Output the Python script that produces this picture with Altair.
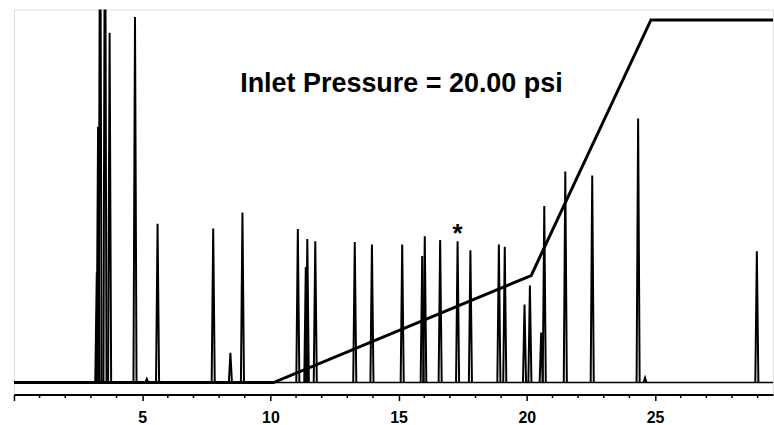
import altair as alt
import pandas as pd

# Peak retention times (min) and heights (relative signal units)
peak_times = [3.23, 3.28, 3.36, 3.55, 3.73, 4.72, 5.18, 5.60, 7.77, 8.44, 8.91,
              11.07, 11.38, 11.44, 11.75, 13.29, 13.96, 15.14, 15.92, 16.02, 16.62,
              17.30, 17.80, 18.91, 19.14, 19.91, 20.12, 20.56, 20.68, 21.50, 22.55,
              24.34, 24.61, 28.97]
peak_heights = [29.5, 68.6, 150, 150, 93.8, 98.0, 1.0, 42.6, 41.3, 8.0, 45.6,
                41.2, 31.0, 38.5, 37.9, 37.7, 37.0, 37.0, 33.9, 39.2, 38.2,
                37.9, 35.5, 37.0, 36.4, 20.9, 26.0, 13.4, 47.3, 56.6, 55.5,
                70.8, 1.3, 35.2]

# Inlet pressure program (time, relative level)
prog_times = [0, 10.12, 20.17, 24.84, 29.6]
prog_levels = [0, 0, 28.7, 97.2, 97.2]

major_ticks = [0, 5, 10, 15, 20, 25]
minor_ticks = [1, 2, 3, 4, 6, 7, 8, 9, 11, 12, 13, 14, 16, 17, 18, 19,
               21, 22, 23, 24, 26, 27, 28, 29]

annotation_text = ["Inlet Pressure = 20.00 psi"]
annotation_time = [15.11]
annotation_level = [77.9]
marked_peak = 17.30

HALF_WIDTH = 0.06
rows = []
for i, (t, h) in enumerate(zip(peak_times, peak_heights)):
    rows.append({"t": t - HALF_WIDTH, "v": 0, "peak": i})
    rows.append({"t": t, "v": h, "peak": i})
    rows.append({"t": t + HALF_WIDTH, "v": 0, "peak": i})
peaks_df = pd.DataFrame(rows)
prog_df = pd.DataFrame({"t": prog_times, "v": prog_levels})
ann_df = pd.DataFrame({"t": annotation_time, "v": annotation_level, "txt": annotation_text})
star_df = pd.DataFrame({"t": [marked_peak],
                        "v": [peak_heights[peak_times.index(marked_peak)]],
                        "txt": ["*"]})
minor_df = pd.DataFrame({"t": minor_ticks})

FONT = "Arial, Liberation Sans"
PLOT_H = 386
xscale = alt.Scale(domain=[0, 29.6], nice=False, zero=False)
yscale = alt.Scale(domain=[-3.2, 100], nice=False, zero=False)

xaxis = alt.Axis(
    values=major_ticks,
    labelExpr="datum.value > 0 ? datum.label : ''",
    tickSize=6, tickColor="black", tickWidth=1.5,
    domainColor="black", domainWidth=2,
    labelFont=FONT, labelFontSize=16, labelFontWeight="bold", labelColor="black",
    labelPadding=9, grid=False, title=None, labelFlush=False, labelOverlap=False,
)

baseline = alt.Chart(pd.DataFrame({"v": [0]})).mark_rule(
    color="black", strokeWidth=1.5).encode(
    y=alt.Y("v:Q", scale=yscale, axis=None))

peaks = alt.Chart(peaks_df).mark_line(
    color="black", strokeWidth=2, clip=True, strokeJoin="miter").encode(
    x=alt.X("t:Q", scale=xscale, axis=xaxis),
    y=alt.Y("v:Q", scale=yscale, axis=None),
    detail="peak:N",
)

minor = alt.Chart(minor_df).mark_rule(color="black", strokeWidth=1.5).encode(
    x=alt.X("t:Q", scale=xscale),
    y=alt.value(PLOT_H),
    y2=alt.value(PLOT_H + 3.5),
)

prog = alt.Chart(prog_df).mark_line(color="black", strokeWidth=3, clip=True).encode(
    x=alt.X("t:Q", scale=xscale),
    y=alt.Y("v:Q", scale=yscale),
)

ann = alt.Chart(ann_df).mark_text(
    font=FONT, fontSize=27, fontWeight="bold", color="black",
    align="center", baseline="alphabetic").encode(
    x=alt.X("t:Q", scale=xscale), y=alt.Y("v:Q", scale=yscale), text="txt:N")

star = alt.Chart(star_df).mark_text(
    font=FONT, fontSize=26, fontWeight="bold", color="black",
    align="center", baseline="alphabetic", dy=1).encode(
    x=alt.X("t:Q", scale=xscale), y=alt.Y("v:Q", scale=yscale), text="txt:N")

chart = alt.layer(baseline, peaks, minor, prog, ann, star).properties(
    width=761, height=PLOT_H,
    padding={"left": 13, "top": 9, "right": 0, "bottom": 0},
).configure_view(stroke=None).configure(background="white")

chart.save("out.html", embed_options={"renderer": "svg", "actions": False})
